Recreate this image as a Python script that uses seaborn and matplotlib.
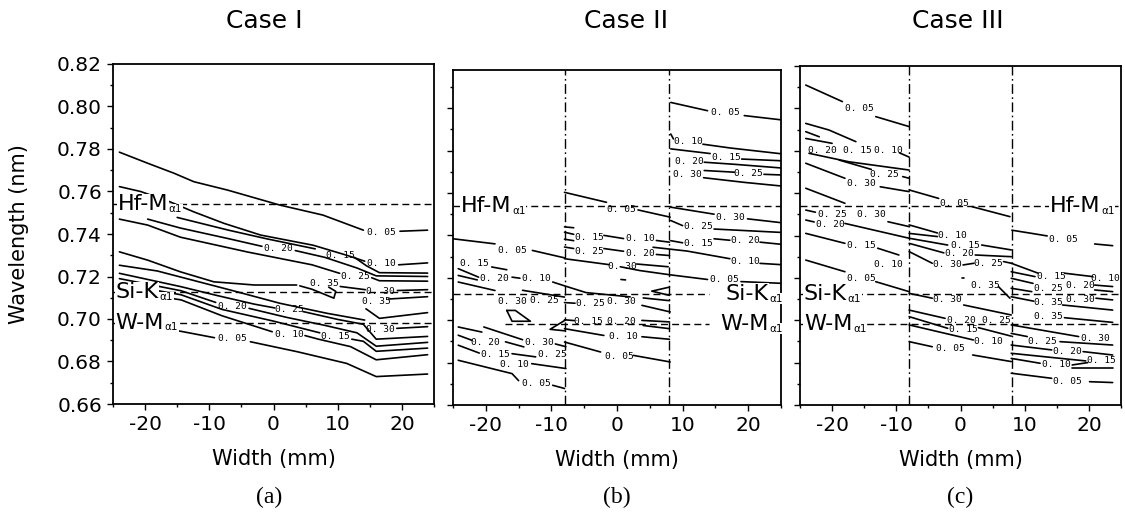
import numpy as np
import pandas as pd
import matplotlib
matplotlib.use("Agg")
import matplotlib.pyplot as plt
from matplotlib.ticker import MultipleLocator
import seaborn as sns

# =====================================================
# DATA : contour pieces in (width mm, wavelength nm)
# =====================================================

hf_ma1 = 0.7539
si_ka1 = 0.7125
w_ma1 = 0.6983

# ---- Case I ----
a_lines = [
    [(-24, 0.7785), (-19.6, 0.7733), (-15.5, 0.7686), (-12.4, 0.7646), (-7.2, 0.7607), (1.0, 0.7536), (7.7, 0.7489), (14.0, 0.7418)],
    [(19.7, 0.7413), (24, 0.7418)],
    [(-24, 0.7623), (-20.7, 0.7600), (-16, 0.7550), (-12.4, 0.7504), (-7.7, 0.7450), (-2, 0.7395), (6.2, 0.7347), (11.4, 0.7300), (14.2, 0.7272)],
    [(19.5, 0.7255), (24, 0.7264)],
    [(-15.0, 0.7478), (-7, 0.7418), (-1, 0.7377), (6.5, 0.7330)],
    [(12.6, 0.7290), (14.5, 0.7250), (16.5, 0.7218), (24, 0.7216)],
    [(-19.6, 0.7470), (-14.5, 0.7428), (-7, 0.7378), (-1.8, 0.7342)],
    [(3.4, 0.7322), (8, 0.7290), (13, 0.7240), (16, 0.7203), (24, 0.7200)],
    [(-24, 0.7470), (-19.6, 0.7442), (-14.5, 0.7385), (-4, 0.7315), (6, 0.7255), (10.3, 0.7215)],
    [(15.3, 0.7194), (16.5, 0.7180), (24, 0.7178)],
    [(-24, 0.7316), (-19.6, 0.7277), (-14.5, 0.7222), (-9.3, 0.7175), (-3, 0.7160), (3.6, 0.7160)],
    [(10.4, 0.7153), (14.3, 0.7138)],
    [(19.3, 0.7134), (24, 0.7138)],
    [(4.1, 0.7156), (6.0, 0.7140), (9.4, 0.7098), (9.7, 0.7130), (8.6, 0.7150)],
    [(24, 0.7105), (17.9, 0.7094)],
    [(14.4, 0.7048), (16.5, 0.7003), (24, 0.7030)],
    [(-24, 0.7253), (-18.1, 0.7226), (-6.8, 0.7137), (1.0, 0.7074), (8.3, 0.7027), (14.2, 0.6995)],
    [(19.2, 0.6956), (24, 0.6964)],
    [(-24, 0.7215), (-14.4, 0.7152), (-9, 0.7112), (-3, 0.7070), (0.2, 0.7052)],
    [(4.6, 0.7035), (10, 0.6998), (14, 0.6975), (16, 0.6905), (24, 0.6918)],
    [(-24, 0.7190), (-14.4, 0.7133), (-9, 0.7078)],
    [(-3.8, 0.7050), (2, 0.7008), (8, 0.6970), (13, 0.6935), (16, 0.6872), (24, 0.6890)],
    [(-24, 0.7165), (-14.4, 0.7114), (-8, 0.7045), (0, 0.6990), (7.2, 0.6935)],
    [(12.2, 0.6905), (14, 0.6895), (16, 0.6848), (24, 0.6863)],
    [(-24, 0.7135), (-14.4, 0.7090), (-8, 0.7015), (-0.2, 0.6940)],
    [(4.9, 0.6922), (7, 0.6905), (12, 0.6870), (16, 0.6808), (24, 0.6832)],
    [(-24, 0.6985), (-14.4, 0.6942), (-9.2, 0.6912)],
    [(-3.6, 0.6893), (3.7, 0.6846), (11.4, 0.6791), (16, 0.6729), (24, 0.6741)],
]
a_labels = [
    (16.8, 0.7405, 0.05), (16.8, 0.7262, 0.10), (10.4, 0.7301, 0.15), (0.8, 0.7332, 0.20),
    (12.8, 0.7201, 0.25), (7.9, 0.7165, 0.35), (16.7, 0.7130, 0.30), (16.0, 0.7081, 0.35),
    (16.7, 0.6952, 0.30), (-6.4, 0.7058, 0.20), (2.4, 0.7043, 0.25), (-6.4, 0.6909, 0.05),
    (2.4, 0.6925, 0.10), (9.7, 0.6917, 0.15),
]

# ---- Case II ----
b_lines = [
    # right section, above Hf
    [(8.2, 0.8027), (13.8, 0.7988)],
    [(19.4, 0.7965), (25, 0.7945)],
    [(8.2, 0.7878), (8.6, 0.7855)],
    [(13.1, 0.7830), (17.3, 0.7812), (25, 0.7785)],
    [(8.2, 0.7808), (14.2, 0.7786)],
    [(19.0, 0.7760), (25, 0.7752)],
    [(13.3, 0.7745), (18, 0.7735), (25, 0.7718)],
    [(13.3, 0.7706), (17.9, 0.7698)],
    [(22.4, 0.7688), (25, 0.7685)],
    [(13.2, 0.7672), (19.4, 0.7650), (25, 0.7633)],
    # right section, below Hf
    [(8.2, 0.7533), (14.8, 0.7500)],
    [(19.9, 0.7478), (25, 0.7460)],
    [(8.2, 0.7470), (10.0, 0.7446)],
    [(14.8, 0.7430), (25, 0.7414)],
    [(8.2, 0.7375), (10.0, 0.7365)],
    [(14.8, 0.7384), (17.2, 0.7377)],
    [(21.8, 0.7368), (25, 0.7358)],
    [(5.5, 0.7344), (10.7, 0.7326), (17.2, 0.7290)],
    [(21.8, 0.7268), (25, 0.7262)],
    [(0.5, 0.7252), (3.5, 0.7234), (8.1, 0.7214), (13.8, 0.7192)],
    [(18.9, 0.7182), (25, 0.7174)],
    # middle section
    [(-8.0, 0.7603), (-1.6, 0.7556)],
    [(3.2, 0.7520), (8.1, 0.7486)],
    [(-8.0, 0.7440), (-6.6, 0.7436)],
    [(-8.0, 0.7415), (-6.6, 0.7405)],
    [(-2.0, 0.7400), (1.0, 0.7385)],
    [(6.0, 0.7376), (8.0, 0.7368)],
    [(-8.0, 0.7382), (-6.6, 0.7375)],
    [(-8.0, 0.7345), (-6.6, 0.7338)],
    [(-2.0, 0.7338), (1.0, 0.7325)],
    [(6.0, 0.7310), (8.0, 0.7305)],
    [(-8.0, 0.7290), (-1.2, 0.7262)],
    [(3.0, 0.7265), (7.8, 0.7252)],
    [(0.6, 0.7192), (1.3, 0.7190)],
    [(-9.8, 0.7180), (-7.8, 0.7160), (-4.7, 0.7130), (2.0, 0.7110)],
    [(8.0, 0.7156), (5.3, 0.7137), (8.0, 0.7117)],
    [(4.0, 0.7105), (8.0, 0.7092)],
    [(3.8, 0.7070), (8.1, 0.7039)],
    [(-8.0, 0.7083), (-6.4, 0.7080)],
    [(-8.0, 0.7002), (-6.5, 0.6998)],
    [(3.8, 0.6999), (8.0, 0.6992)],
    [(4.0, 0.6975), (8.0, 0.6960)],
    [(-8.0, 0.6960), (-2.0, 0.6928)],
    [(3.8, 0.6922), (8.0, 0.6910)],
    [(-8.0, 0.6897), (-2.5, 0.6850)],
    [(2.5, 0.6834), (8.1, 0.6803)],
    # left section
    [(-25.0, 0.7384), (-18.6, 0.7360)],
    [(-12.9, 0.7329), (-8.0, 0.7294)],
    [(-19.1, 0.7251), (-16.8, 0.7238)],
    [(-24.2, 0.7243), (-21.1, 0.7203)],
    [(-24.2, 0.7211), (-21.3, 0.7190)],
    [(-24.2, 0.7180), (-18.6, 0.7140)],
    [(-16.0, 0.7203), (-14.8, 0.7198)],
    [(-14.4, 0.7141), (-8.0, 0.7109)],
    [(-16.8, 0.7046), (-15.5, 0.7046), (-13.2, 0.6995), (-16.0, 0.6995), (-16.8, 0.7046)],
    [(-7.8, 0.7002), (-10.2, 0.6957), (-8.0, 0.6950)],
    [(-24.2, 0.6968), (-20.6, 0.6944)],
    [(-20.3, 0.6968), (-14.4, 0.6908)],
    [(-24.2, 0.6929), (-22.1, 0.6905)],
    [(-17.0, 0.6898), (-14.2, 0.6874)],
    [(-9.4, 0.6888), (-7.8, 0.6875)],
    [(-24.2, 0.6882), (-21.0, 0.6845)],
    [(-16.0, 0.6842), (-12.4, 0.6827)],
    [(-13.0, 0.6795), (-7.8, 0.6772)],
    [(-24.2, 0.6811), (-16.0, 0.6748), (-15.0, 0.6715)],
    [(-9.8, 0.6693), (-8.0, 0.6678)],
]
b_labels = [
    (16.5, 0.7981, 0.05), (10.9, 0.7844, 0.10), (16.6, 0.7768, 0.15), (11.0, 0.7749, 0.20),
    (20.1, 0.7690, 0.25), (10.7, 0.7687, 0.30),
    (17.3, 0.7486, 0.30), (12.4, 0.7442, 0.25), (12.4, 0.7360, 0.15), (19.5, 0.7376, 0.20),
    (19.5, 0.7279, 0.10), (16.4, 0.7192, 0.05),
    (0.6, 0.7520, 0.05), (-4.2, 0.7392, 0.15), (3.6, 0.7384, 0.10), (-4.2, 0.7325, 0.25),
    (3.6, 0.7313, 0.20), (0.8, 0.7251, 0.30), (-4.1, 0.7078, 0.25), (0.6, 0.7086, 0.30),
    (-4.4, 0.6996, 0.15), (0.6, 0.6996, 0.20), (0.9, 0.6921, 0.10), (0.3, 0.6827, 0.05),
    (-15.9, 0.7329, 0.05), (-21.8, 0.7269, 0.15), (-18.7, 0.7196, 0.20), (-12.3, 0.7196, 0.10),
    (-15.9, 0.7086, 0.30), (-11.0, 0.7094, 0.25), (-20.0, 0.6897, 0.20), (-11.9, 0.6897, 0.30),
    (-18.5, 0.6839, 0.15), (-9.8, 0.6839, 0.25), (-15.6, 0.6792, 0.10), (-12.3, 0.6701, 0.05),
]

# ---- Case III ----
c_lines = [
    # left section
    [(-24.1, 0.8110), (-18.4, 0.8032)],
    [(-13.2, 0.7961), (-8.0, 0.7914)],
    [(-24.1, 0.7929), (-20.5, 0.7898), (-16.3, 0.7843)],
    [(-24.1, 0.7890), (-22.0, 0.7866)],
    [(-24.1, 0.7858), (-20.0, 0.7835)],
    [(-9.5, 0.7790), (-8.0, 0.7770)],
    [(-23.6, 0.7788), (-17.4, 0.7748), (-8.0, 0.7709)],
    [(-18.9, 0.7756), (-13.9, 0.7712)],
    [(-24.1, 0.7741), (-18.0, 0.7670)],
    [(-9.0, 0.7678), (-8.0, 0.7670)],
    [(-12.5, 0.7630), (-8.0, 0.7607)],
    [(-24.1, 0.7623), (-18.0, 0.7552)],
    [(-24.1, 0.7520), (-22.6, 0.7510)],
    [(-24.1, 0.7473), (-22.8, 0.7464)],
    [(-18.0, 0.7457), (-8.0, 0.7387)],
    [(-11.3, 0.7465), (-8.0, 0.7442)],
    [(-24.1, 0.7410), (-18.0, 0.7363)],
    [(-12.9, 0.7340), (-9.6, 0.7308)],
    [(-24.1, 0.7284), (-18.0, 0.7229)],
    [(-13.2, 0.7182), (-8.0, 0.7135)],
    # middle section
    [(-8.0, 0.7615), (-3.4, 0.7575)],
    [(1.8, 0.7536), (7.7, 0.7489)],
    [(-8.0, 0.7450), (-3.6, 0.7412)],
    [(-8.0, 0.7410), (-3.6, 0.7395)],
    [(-8.0, 0.7387), (-2.0, 0.7355)],
    [(-8.0, 0.7363), (-2.6, 0.7318)],
    [(3.3, 0.7355), (7.9, 0.7332)],
    [(2.3, 0.7308), (7.9, 0.7300)],
    [(-8.0, 0.7324), (-4.4, 0.7269)],
    [(0.4, 0.7261), (2.1, 0.7269)],
    [(6.7, 0.7277), (7.9, 0.7269)],
    [(0.2, 0.7198), (0.5, 0.7198)],
    [(5.9, 0.7159), (7.7, 0.7104)],
    [(-8.0, 0.7127), (-4.4, 0.7104)],
    [(0.5, 0.7072), (7.9, 0.7025)],
    [(-8.0, 0.7048), (-2.4, 0.7009)],
    [(-8.0, 0.7017), (-2.0, 0.6962)],
    [(2.8, 0.6965), (7.9, 0.6925)],
    [(-8.0, 0.6978), (2.0, 0.6907)],
    [(-8.0, 0.6899), (-4.4, 0.6875)],
    [(1.9, 0.6836), (7.9, 0.6805)],
    # right section
    [(8.0, 0.7425), (11.1, 0.7410), (13.5, 0.7398)],
    [(20.9, 0.7360), (23.7, 0.7352)],
    [(7.9, 0.7269), (12.1, 0.7222)],
    [(16.2, 0.7222), (20.6, 0.7206)],
    [(7.9, 0.7229), (11.6, 0.7206)],
    [(7.9, 0.7198), (11.3, 0.7174)],
    [(20.9, 0.7166), (23.7, 0.7159)],
    [(20.9, 0.7143), (23.7, 0.7135)],
    [(7.9, 0.7151), (11.1, 0.7135)],
    [(7.9, 0.7111), (11.4, 0.7090)],
    [(21.1, 0.7104), (23.7, 0.7096)],
    [(15.9, 0.7072), (23.7, 0.7048)],
    [(16.2, 0.7012), (23.7, 0.6990)],
    [(7.9, 0.6978), (18.4, 0.6923)],
    [(7.9, 0.6938), (10.4, 0.6923)],
    [(15.5, 0.6899), (23.7, 0.6883)],
    [(7.9, 0.6883), (14.2, 0.6860)],
    [(19.1, 0.6852), (23.7, 0.6836)],
    [(7.9, 0.6844), (14.0, 0.6825), (19.5, 0.6808)],
    [(7.9, 0.6820), (12.4, 0.6797)],
    [(17.4, 0.6789), (19.8, 0.6800)],
    [(17.3, 0.6773), (23.7, 0.6773)],
    [(7.9, 0.6750), (14.2, 0.6726)],
    [(20.1, 0.6710), (23.7, 0.6706)],
]
c_labels = [
    (-15.7, 0.7999, 0.05), (-21.5, 0.7803, 0.20), (-16.0, 0.7803, 0.15), (-11.2, 0.7803, 0.10),
    (-11.8, 0.7690, 0.25), (-15.5, 0.7646, 0.30), (-20.0, 0.7497, 0.25), (-13.9, 0.7497, 0.30),
    (-20.2, 0.7450, 0.20), (-15.5, 0.7355, 0.15), (-11.2, 0.7261, 0.10), (-15.5, 0.7198, 0.05),
    (-1.0, 0.7552, 0.05), (-1.3, 0.7402, 0.10), (0.7, 0.7355, 0.15), (-0.2, 0.7316, 0.20),
    (-2.1, 0.7261, 0.30), (4.4, 0.7269, 0.25), (3.8, 0.7166, 0.35), (-2.1, 0.7096, 0.30),
    (0.2, 0.7001, 0.20), (5.6, 0.7001, 0.25), (0.45, 0.6957, 0.15), (4.4, 0.6899, 0.10),
    (-1.5, 0.6868, 0.05),
    (16.1, 0.7380, 0.05), (14.2, 0.7206, 0.15), (22.6, 0.7198, 0.10), (13.7, 0.7151, 0.25),
    (18.6, 0.7166, 0.20), (13.7, 0.7083, 0.35), (18.6, 0.7099, 0.30), (13.7, 0.7020, 0.35),
    (21.0, 0.6915, 0.30), (12.7, 0.6899, 0.25), (16.6, 0.6852, 0.20), (21.9, 0.6809, 0.15),
    (14.9, 0.6789, 0.10), (16.6, 0.6710, 0.05),
]

case_titles = ["Case I", "Case II", "Case III"]
panel_tags = ["(a)", "(b)", "(c)"]
mask_edges = [-8, 8]

# =====================================================
# STYLE
# =====================================================

sns.set_style("ticks")
plt.rcParams["font.family"] = ["DejaVu Sans"]
plt.rcParams["axes.unicode_minus"] = False
for key in ["text.color", "axes.labelcolor", "xtick.color", "ytick.color", "axes.edgecolor"]:
    plt.rcParams[key] = "black"

fig = plt.figure(figsize=(11.25, 5.15), dpi=100)
ax_a = fig.add_axes([113 / 1125, 1 - 404 / 515, 321 / 1125, 340 / 515])
ax_b = fig.add_axes([453 / 1125, 1 - 405 / 515, 328 / 1125, 335 / 515])
ax_c = fig.add_axes([800 / 1125, 1 - 405 / 515, 321 / 1125, 339 / 515])


def fmt(v):
    return f"{v:.2f}".replace(".", ". ")


def draw_panel(ax, segs, labels, ylim):
    rows = [(i, x, y) for i, s in enumerate(segs) for x, y in s]
    df = pd.DataFrame(rows, columns=["seg", "x", "y"])
    sns.lineplot(data=df, x="x", y="y", units="seg", estimator=None, sort=False,
                 color="black", lw=1.2, ax=ax, legend=False, zorder=3)
    for x, y, v in labels:
        ax.text(x, y, fmt(v), fontsize=6.8, family="DejaVu Sans Mono",
                ha="center", va="center", zorder=4)
    ax.set_xlim(-25, 25)
    ax.set_ylim(*ylim)
    ax.xaxis.set_major_locator(MultipleLocator(10))
    ax.xaxis.set_minor_locator(MultipleLocator(5))
    ax.yaxis.set_major_locator(MultipleLocator(0.02))
    ax.yaxis.set_minor_locator(MultipleLocator(0.01))
    ax.tick_params(which="major", direction="out", length=4, width=1, labelsize=14.5, pad=4)
    ax.tick_params(which="minor", direction="out", length=2.5, width=1)
    for sp in ax.spines.values():
        sp.set_linewidth(1.3)
        sp.set_visible(True)
    ax.set_xlabel("Width (mm)", fontsize=15, labelpad=11)
    ax.set_ylabel("")


dash = (0, (5, 3))
dashdot = (0, (7, 2.5, 1.2, 2.5))
white = dict(fc="white", ec="none", pad=0.5)


def line_label(ax, x, y, name, ha="left"):
    # element line name with a small alpha-1 subscript
    if ha == "left":
        t = ax.text(x, y, name, ha="left", va="center", fontsize=16, zorder=5, bbox=white)
        ax.annotate("α1", xy=(1, 0.5), xycoords=t, xytext=(0.5, -3.5),
                    textcoords="offset points", ha="left", va="center",
                    fontsize=7.5, zorder=5, bbox=white)
    else:
        s = ax.annotate("α1", xy=(x, y), xycoords="data", xytext=(0, -3.5),
                        textcoords="offset points", ha="right", va="center",
                        fontsize=7.5, zorder=5, bbox=white, annotation_clip=False)
        ax.annotate(name, xy=(0, 0.5), xycoords=s, xytext=(-0.5, 3.5),
                    textcoords="offset points", ha="right", va="center",
                    fontsize=16, zorder=5, bbox=white, annotation_clip=False)


# (a)
draw_panel(ax_a, a_lines, a_labels, (0.66, 0.82))
ax_a.yaxis.set_major_formatter(plt.FuncFormatter(lambda v, p: f"{v:.2f}"))
for w in [hf_ma1, si_ka1, w_ma1]:
    ax_a.axhline(w, ls=dash, lw=1, color="black", zorder=2)
line_label(ax_a, -24.3, hf_ma1, "Hf-M")
line_label(ax_a, -24.6, si_ka1, "Si-K")
line_label(ax_a, -24.6, w_ma1, "W-M")

# (b)
draw_panel(ax_b, b_lines, b_labels, (0.66, 0.818))
ax_b.tick_params(labelleft=False)
ax_b.axhline(hf_ma1, ls=dash, lw=1, color="black", zorder=2)
ax_b.hlines(si_ka1, -25, 14, ls=dash, lw=1, color="black", zorder=2)
ax_b.hlines(w_ma1, -17, 14, ls=dash, lw=1, color="black", zorder=2)
line_label(ax_b, -23.8, hf_ma1, "Hf-M")
line_label(ax_b, 25.3, si_ka1, "Si-K", ha="right")
line_label(ax_b, 25.3, w_ma1, "W-M", ha="right")
for xv in mask_edges:
    ax_b.axvline(xv, ls=dashdot, lw=1, color="black", zorder=2)

# (c)
draw_panel(ax_c, c_lines, c_labels, (0.66, 0.82))
ax_c.tick_params(labelleft=False)
for w in [hf_ma1, si_ka1, w_ma1]:
    ax_c.axhline(w, ls=dash, lw=1, color="black", zorder=2)
line_label(ax_c, 24.0, hf_ma1, "Hf-M", ha="right")
line_label(ax_c, -24.4, si_ka1, "Si-K")
line_label(ax_c, -24.4, w_ma1, "W-M")
for xv in mask_edges:
    ax_c.axvline(xv, ls=dashdot, lw=1, color="black", zorder=2)

# titles, tags, y label
for xc, t in zip([264, 626, 958], case_titles):
    fig.text(xc / 1125, 1 - 21 / 515, t, fontsize=18, ha="center", va="center")
for xc, t in zip([269, 617, 960], panel_tags):
    fig.text(xc / 1125, 1 - 497 / 515, t, fontsize=17, ha="center", va="center",
             family="Liberation Serif")
fig.text(19 / 1125, 1 - 234 / 515, "Wavelength (nm)", fontsize=15, rotation=90,
         ha="center", va="center")

fig.savefig("out.png", dpi=100)
